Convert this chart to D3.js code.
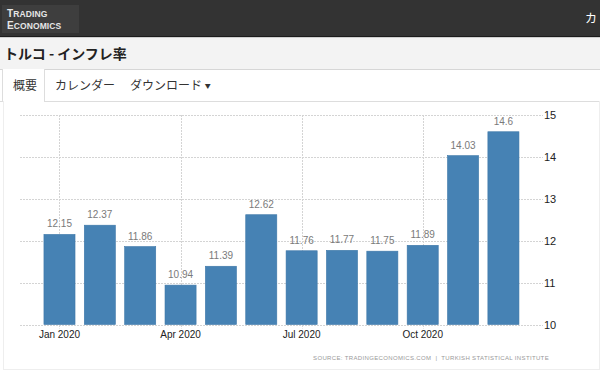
<!DOCTYPE html>
<html>
<head>
<meta charset="utf-8">
<script src="https://cdn.jsdelivr.net/npm/d3@7"></script>
<style>
  html, body { margin: 0; padding: 0; width: 600px; height: 374px; overflow: hidden; background: #fff; }
  body { font-family: "Liberation Sans", Arial, "Noto Sans CJK JP", sans-serif; position: relative; }
  .jp { font-family: "Noto Sans CJK JP", sans-serif; }
  #top { position: absolute; left: 0; top: 0; width: 600px; height: 36px; background: #333; border-bottom: 1px solid #1c1c1c; }
  #logo { position: absolute; left: 2px; top: 5px; width: 77px; height: 28px; background: #3e3e3e; color: #e6e6e6;
          font-weight: bold; font-size: 8.5px; letter-spacing: 0.1px; }
  #logo div { position: absolute; left: 5px; line-height: 8px; height: 8px; }
  #logo span { font-size: 10px; }
  #nav { position: absolute; left: 585px; top: 11px; color: #fff; font-size: 12px; line-height: 14px; }
  #titlebar { position: absolute; left: 0; top: 37px; width: 600px; height: 31px; background: #f3f3f3; border-top: 1px solid #cfcfcf; border-bottom: 1px solid #d6d6d6; }
  #title { position: absolute; left: 4px; top: 5px; font-size: 14px; font-weight: bold; color: #222; }
  #tabs { position: absolute; left: 0; top: 69px; width: 600px; height: 32px; border-bottom: 1px solid #ddd; }
  .tab { position: absolute; top: 7px; font-size: 12px; color: #333; }
  #active { position: absolute; left: 2px; top: 0px; width: 41px; height: 33px; background: #fff; border: 1px solid #ddd; border-bottom: none; border-top: none; }
  #panel { position: absolute; left: 3px; top: 101px; width: 595px; height: 268px; border: 1px solid #eee; border-top: none; }
  svg { position: absolute; left: 0; top: 0; }
</style>
</head>
<body>
<div id="top">
  <div id="logo"><div style="top:5px"><span>T</span>RADING</div><div style="top:17px"><span>E</span>CONOMICS</div></div>
  <div id="nav" class="jp">カ</div>
</div>
<div id="titlebar"><div id="title" class="jp">トルコ - インフレ率</div></div>
<div id="tabs">
  <div id="active"></div>
  <div class="tab jp" style="left:13px">概要</div>
  <div class="tab jp" style="left:55px">カレンダー</div>
  <div class="tab jp" style="left:130px">ダウンロード <span style="font-size:6px;position:relative;top:-2px">▼</span></div>
</div>
<div id="panel"></div>
<script>
// Turkey inflation rate, 2020 monthly (%)
const months = ["Jan", "Feb", "Mar", "Apr", "May", "Jun", "Jul", "Aug", "Sep", "Oct", "Nov", "Dec"];
const values = [12.15, 12.37, 11.86, 10.94, 11.39, 12.62, 11.76, 11.77, 11.75, 11.89, 14.03, 14.6];
const yTicks = [10, 11, 12, 13, 14, 15];
const xTickMonths = ["Jan", "Apr", "Jul", "Oct"];
const year = "2020";
const source = "SOURCE: TRADINGECONOMICS.COM  |  TURKISH STATISTICAL INSTITUTE";

const svg = d3.select("body").append("svg").attr("width", 600).attr("height", 374);

const gridLeft = 20, gridRight = 543;
const x = d3.scaleBand().domain(months).range([39.3, 523.6]).paddingInner(0.23).paddingOuter(0.115);
const y = d3.scaleLinear().domain([10, 15]).range([324.5, 115]);

// horizontal grid + right axis labels
const yAxis = svg.append("g");
yAxis.selectAll("line").data(yTicks).enter().append("line")
  .attr("x1", gridLeft).attr("x2", gridRight)
  .attr("y1", (d) => Math.round(y(d)) + 0.5).attr("y2", (d) => Math.round(y(d)) + 0.5)
  .attr("stroke", "#d4d4d4").attr("stroke-dasharray", "2,1");
yAxis.selectAll("text").data(yTicks).enter().append("text")
  .attr("x", gridRight + 1).attr("y", (d) => y(d) + 4)
  .attr("font-size", 11).attr("fill", "#222").text((d) => d);

// vertical grid at quarter ticks
const cx = (m) => x(m) + x.bandwidth() / 2;
const xAxis = svg.append("g");
xAxis.selectAll("line").data(xTickMonths).enter().append("line")
  .attr("x1", (d) => Math.round(cx(d)) + 0.5).attr("x2", (d) => Math.round(cx(d)) + 0.5)
  .attr("y1", y(15)).attr("y2", y(10) + 4)
  .attr("stroke", "#d4d4d4").attr("stroke-dasharray", "2,1");
xAxis.selectAll("text").data(xTickMonths).enter().append("text")
  .attr("x", cx).attr("y", 338).attr("text-anchor", "middle")
  .attr("font-size", 10).attr("fill", "#222").text((d) => `${d} ${year}`);

// bars
const data = months.map((m, i) => ({ m, v: values[i] }));
svg.append("g").selectAll("rect").data(data).enter().append("rect")
  .attr("x", (d) => x(d.m)).attr("width", x.bandwidth())
  .attr("y", (d) => y(d.v)).attr("height", (d) => y(10) - y(d.v))
  .attr("fill", "#4682b4").attr("stroke", "#3d77a8").attr("stroke-width", 0.6);

svg.append("g").selectAll("text").data(data).enter().append("text")
  .attr("x", (d) => cx(d.m)).attr("y", (d) => y(d.v) - 7)
  .attr("text-anchor", "middle").attr("font-size", 10).attr("fill", "#7a7a7a")
  .text((d) => d.v);

svg.append("text").attr("x", 549).attr("y", 360).attr("text-anchor", "end")
  .attr("font-size", 6).attr("letter-spacing", 0.35).attr("fill", "#999")
  .attr("xml:space", "preserve").style("white-space", "pre").text(source);
</script>
</body>
</html>
